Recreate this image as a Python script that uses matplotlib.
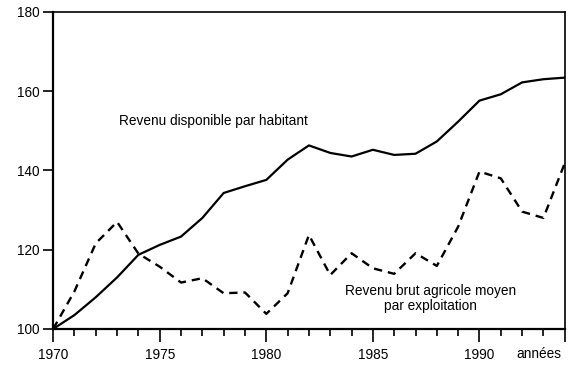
import matplotlib.pyplot as plt
from matplotlib.ticker import MultipleLocator

# Années et séries (indices, 1970 = 100)
annees = list(range(1970, 1995))
revenu_disponible = [100, 103.5, 108, 113, 118.7, 121.2, 123.3, 128, 134.3, 136,
                     137.6, 142.7, 146.3, 144.4, 143.5, 145.2, 143.9, 144.2, 147.3,
                     152.3, 157.6, 159.2, 162.2, 163, 163.4]
revenu_agricole = [100, 109.5, 121.6, 127, 119, 115.7, 111.7, 112.8, 109, 109.2,
                   103.8, 109, 123.7, 113.6, 119.1, 115.3, 113.9, 119.1, 115.9,
                   125.8, 139.7, 138, 129.6, 128, 141.8]
xtick_labels = ['1970', '1975', '1980', '1985', '1990']

plt.rcParams['font.family'] = ['Liberation Sans', 'DejaVu Sans']

fig = plt.figure(figsize=(5.84, 3.70), dpi=100)
ax = fig.add_axes([0.091, 0.111, 0.876, 0.857])

ax.plot(annees, revenu_disponible, color='black', linewidth=1.6)
ax.plot(annees, revenu_agricole, color='black', linewidth=1.7, dashes=(3.5, 2.5))

ax.set_xlim(1970, 1994)
ax.set_ylim(100, 180)

# Axes
for side in ['left', 'bottom']:
    ax.spines[side].set_linewidth(1.6)
for side in ['top', 'right']:
    ax.spines[side].set_linewidth(1.2)

ax.set_yticks([100, 120, 140, 160, 180])
ax.tick_params(axis='y', direction='out', length=7, width=1.2, pad=3, labelsize=9.8)

ax.set_xticks([1970, 1975, 1980, 1985, 1990, 1994])
ax.set_xticklabels(xtick_labels + [''])
ax.xaxis.set_minor_locator(MultipleLocator(1))
ax.tick_params(axis='x', which='major', direction='out', length=9, width=1.2,
               pad=5, labelsize=9.8)
ax.tick_params(axis='x', which='minor', direction='out', length=5, width=1.2)
ax.text(1992.8, -0.058, 'années', transform=ax.get_xaxis_transform(),
        ha='center', va='top', fontsize=9.8)

# Légendes des courbes
ax.text(1977.5, 152.5, 'Revenu disponible par habitant', ha='center', va='center',
        fontsize=9.8)
ax.text(1987.7, 109.6, 'Revenu brut agricole moyen', ha='center', va='center',
        fontsize=9.8)
ax.text(1987.7, 105.9, 'par exploitation', ha='center', va='center', fontsize=9.8)

plt.savefig('out.png', dpi=100)
